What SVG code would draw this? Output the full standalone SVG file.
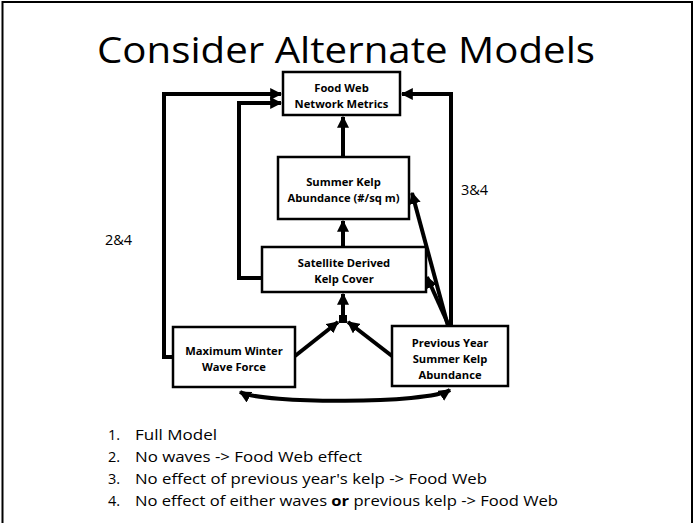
<svg xmlns="http://www.w3.org/2000/svg" width="694" height="523" viewBox="0 0 694 523">
  <style>
    .box { fill: #ffffff; stroke: #000000; stroke-width: 2.5; }
    .lbl { font-family: "Open Sans", "Liberation Sans", sans-serif; font-weight: bold; font-size: 11.2px; fill: #000000; text-anchor: middle; }
    .edge { fill: none; stroke: #000000; stroke-width: 4; stroke-linejoin: miter; }
    .note { font-family: "Open Sans", "Liberation Sans", sans-serif; font-size: 14.5px; fill: #000000; }
    .title { font-family: "Open Sans", "Liberation Sans", sans-serif; font-size: 36px; fill: #000000; text-anchor: middle; }
  </style>
  <defs>
    <marker id="arrow" viewBox="0 0 10 10" refX="9" refY="5" markerWidth="3" markerHeight="3" orient="auto-start-reverse" markerUnits="strokeWidth">
      <path d="M0,0 L10,5 L0,10 z" fill="#000000"/>
    </marker>
  </defs>

  <rect x="0" y="0" width="694" height="523" fill="#ffffff"/>
  <!-- slide frame -->
  <rect x="2.5" y="2" width="689.5" height="530" fill="none" stroke="#000000" stroke-width="2"/>

  <text class="title" x="346" y="63" textLength="498" lengthAdjust="spacingAndGlyphs">Consider Alternate Models</text>

  <g id="connectors">
    <!-- waves -> food web (outer left loop) -->
    <path class="edge" d="M173,357 H164 V94 H281" marker-end="url(#arrow)"/>
    <!-- satellite cover -> food web (inner left loop) -->
    <path class="edge" d="M262,278 H239 V103 H281" marker-end="url(#arrow)"/>
    <!-- previous year kelp -> food web (right loop) -->
    <path class="edge" d="M451,326 V94 H402" marker-end="url(#arrow)"/>
    <!-- summer kelp -> food web -->
    <path class="edge" d="M343,157 V117" marker-end="url(#arrow)"/>
    <!-- satellite -> summer kelp -->
    <path class="edge" d="M343,247 V221" marker-end="url(#arrow)"/>
    <!-- junction -> satellite -->
    <path class="edge" d="M343,317 V294" marker-end="url(#arrow)"/>
    <rect x="339" y="315" width="8" height="8" fill="#000000"/>
    <!-- waves -> junction -->
    <path class="edge" d="M295,356 L338,322" marker-end="url(#arrow)"/>
    <!-- previous year -> junction -->
    <path class="edge" d="M392,356 L348,322" marker-end="url(#arrow)"/>
    <!-- previous year -> summer kelp -->
    <path class="edge" d="M448,326 L412,193" marker-end="url(#arrow)"/>
    <!-- previous year -> satellite -->
    <path class="edge" d="M449,326 L427,277" marker-end="url(#arrow)"/>
    <!-- waves <-> previous year (curved, both ends) -->
    <path class="edge" d="M240,392 C262,404 428,404 450,390" marker-start="url(#arrow)" marker-end="url(#arrow)"/>
  </g>

  <g id="food-web">
    <rect class="box" x="283" y="72" width="117" height="43"/>
    <text class="lbl" x="341.5" y="92">Food Web</text>
    <text class="lbl" x="341.5" y="108">Network Metrics</text>
  </g>

  <g id="summer-kelp">
    <rect class="box" x="278" y="157" width="131" height="62"/>
    <text class="lbl" x="343.5" y="186">Summer Kelp</text>
    <text class="lbl" x="343.5" y="202">Abundance (#/sq m)</text>
  </g>

  <g id="satellite">
    <rect class="box" x="262" y="247" width="164" height="45"/>
    <text class="lbl" x="344" y="267">Satellite Derived</text>
    <text class="lbl" x="344" y="283">Kelp Cover</text>
  </g>

  <g id="wave-force">
    <rect class="box" x="173" y="327" width="122" height="60"/>
    <text class="lbl" x="234" y="355">Maximum Winter</text>
    <text class="lbl" x="234" y="371">Wave Force</text>
  </g>

  <g id="previous-kelp">
    <rect class="box" x="392" y="326" width="116" height="60"/>
    <text class="lbl" x="450" y="347">Previous Year</text>
    <text class="lbl" x="450" y="363">Summer Kelp</text>
    <text class="lbl" x="450" y="379">Abundance</text>
  </g>

  <text class="note" x="105" y="245">2&amp;4</text>
  <text class="note" x="461" y="195">3&amp;4</text>

  <g id="legend" class="note">
    <text x="108" y="440">1.</text><text x="135" y="440" textLength="82" lengthAdjust="spacingAndGlyphs">Full Model</text>
    <text x="108" y="462">2.</text><text x="135" y="462" textLength="227" lengthAdjust="spacingAndGlyphs">No waves -&gt; Food Web effect</text>
    <text x="108" y="484">3.</text><text x="135" y="484" textLength="352" lengthAdjust="spacingAndGlyphs">No effect of previous year's kelp -&gt; Food Web</text>
    <text x="108" y="506">4.</text><text x="135" y="506" textLength="423" lengthAdjust="spacingAndGlyphs">No effect of either waves <tspan font-weight="bold">or</tspan> previous kelp -&gt; Food Web</text>
  </g>
</svg>
